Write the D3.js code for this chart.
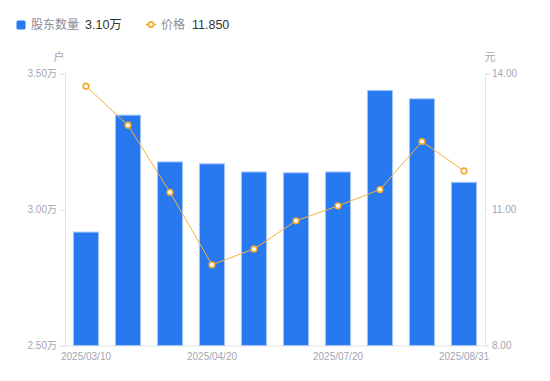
<!DOCTYPE html>
<html>
<head>
<meta charset="utf-8">
<script src="https://cdn.jsdelivr.net/npm/d3@7/dist/d3.min.js"></script>
<style>
  html, body { margin: 0; padding: 0; background: #fff; }
  svg { display: block; font-family: "Noto Sans CJK SC", "Noto Sans", sans-serif; }
</style>
</head>
<body>
<svg id="chart" width="550" height="381"></svg>
<script>
const dates = ["2025/03/10", "2025/03/20", "2025/03/31", "2025/04/20", "2025/04/30", "2025/06/30", "2025/07/20", "2025/07/31", "2025/08/10", "2025/08/31"];
const holders = [2.917, 3.347, 3.175, 3.168, 3.138, 3.135, 3.138, 3.438, 3.407, 3.100]; // 万户
const prices = [13.72, 12.86, 11.38, 9.78, 10.13, 10.75, 11.08, 11.44, 12.50, 11.85];
const shownDates = ["2025/03/10", "2025/04/20", "2025/07/20", "2025/08/31"];
const leftTicks = [2.5, 3.0, 3.5];
const rightTicks = [8, 11, 14];

const svg = d3.select("#chart");
const pLeft = 65, pRight = 485, pTop = 73.5, pBottom = 345.5;

const x = d3.scaleBand().domain(dates).range([pLeft, pRight]).paddingInner(0.4).paddingOuter(0.2);
const yL = d3.scaleLinear().domain([2.5, 3.5]).range([pBottom, pTop]);
const yR = d3.scaleLinear().domain([8, 14]).range([pBottom, pTop]);

const axisColor = "#e3e4e8";
const labelColor = "#a3a5b3";

// Axes
const gL = svg.append("g").attr("transform", `translate(${pLeft},0)`)
  .call(d3.axisLeft(yL).tickValues(leftTicks).tickSize(5).tickPadding(3).tickFormat(d => d.toFixed(2) + "万"));
const gR = svg.append("g").attr("transform", `translate(${pRight},0)`)
  .call(d3.axisRight(yR).tickValues(rightTicks).tickSize(4).tickPadding(3).tickFormat(d => d.toFixed(2)));
const gB = svg.append("g").attr("transform", `translate(0,${pBottom})`)
  .call(d3.axisBottom(x).tickValues(shownDates).tickSize(0).tickPadding(7));
gB.select(".domain").attr("d", `M${pLeft},0.5H${pRight}`);

[gL, gR, gB].forEach(g => {
  g.select(".domain").attr("stroke", axisColor);
  g.selectAll(".tick line").attr("stroke", axisColor);
  g.selectAll(".tick text").attr("fill", labelColor).style("font-size", "10px")
    .style("font-family", "'Liberation Sans', Arial, 'Noto Sans CJK SC', sans-serif");
});

// Units
svg.append("text").attr("x", 59).attr("y", 61).attr("text-anchor", "middle")
  .attr("fill", labelColor).style("font-size", "11px").text("户");
svg.append("text").attr("x", 490).attr("y", 61).attr("text-anchor", "middle")
  .attr("fill", labelColor).style("font-size", "11px").text("元");

// Bars
svg.append("g").selectAll("rect").data(dates).join("rect")
  .attr("x", d => x(d))
  .attr("y", (d, i) => yL(holders[i]))
  .attr("width", x.bandwidth())
  .attr("height", (d, i) => pBottom - yL(holders[i]))
  .attr("fill", "#2878f0")
  .attr("stroke", "#a8c8f8")
  .attr("stroke-width", 1);

// Line
const cx = d => x(d) + x.bandwidth() / 2;
const line = d3.line().x((d, i) => cx(dates[i])).y(d => yR(d));
svg.append("path").datum(prices).attr("d", line)
  .attr("fill", "none").attr("stroke", "#f7b13c").attr("stroke-width", 1);
svg.append("g").selectAll("circle").data(prices).join("circle")
  .attr("cx", (d, i) => cx(dates[i]))
  .attr("cy", d => yR(d))
  .attr("r", 2.8)
  .attr("fill", "#fff")
  .attr("stroke", "#f7a928")
  .attr("stroke-width", 1.6);

// Legend
const lg = svg.append("g").style("font-size", "12px");
lg.append("rect").attr("x", 16.5).attr("y", 20.5).attr("width", 9).attr("height", 9).attr("rx", 1.5).attr("fill", "#2878f0");
lg.append("text").attr("x", 31).attr("y", 29).attr("fill", "#8a8c99").text("股东数量");
lg.append("text").attr("x", 85).attr("y", 29).attr("fill", "#333").text(holders[holders.length - 1].toFixed(2) + "万")
  .style("font-family", "'Liberation Sans', Arial, 'Noto Sans CJK SC', sans-serif").style("font-size", "12.5px");
lg.append("line").attr("x1", 146).attr("x2", 156).attr("y1", 24.5).attr("y2", 24.5).attr("stroke", "#f7a928").attr("stroke-width", 1.5);
lg.append("circle").attr("cx", 151).attr("cy", 24.5).attr("r", 2.6).attr("fill", "#fff").attr("stroke", "#f7a928").attr("stroke-width", 1.6);
lg.append("text").attr("x", 161).attr("y", 29).attr("fill", "#8a8c99").text("价格");
lg.append("text").attr("x", 192).attr("y", 29).attr("fill", "#333").text(prices[prices.length - 1].toFixed(3))
  .style("font-family", "'Liberation Sans', Arial, sans-serif").style("font-size", "12.5px");
</script>
</body>
</html>
